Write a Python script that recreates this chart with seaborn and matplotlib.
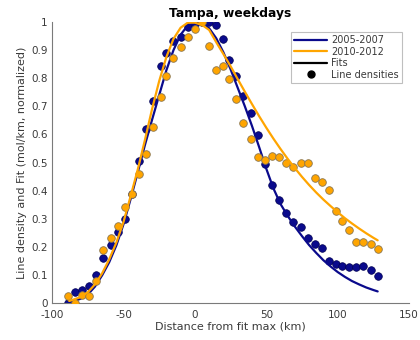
import numpy as np
import pandas as pd
import matplotlib
matplotlib.use("Agg")
import matplotlib.pyplot as plt
from matplotlib.lines import Line2D
import seaborn as sns

# ---- data ----
dist_pts = [-89, -84, -79, -74, -69, -64, -59, -54, -49, -44, -39, -34, -29, -24,
            -20, -15, -10, -5, 0, 5, 10, 15, 20, 24, 29, 34, 39, 44, 49, 54, 59,
            64, 69, 74, 79, 84, 89, 94, 99, 103, 108, 113, 118, 123, 128]
dens_0507 = [0.0, 0.038, 0.047, 0.059, 0.10, 0.161, 0.207, 0.251, 0.30, 0.387,
             0.504, 0.618, 0.719, 0.843, 0.889, 0.933, 0.948, 0.982, 0.994, 1.0,
             0.999, 0.99, 0.94, 0.865, 0.808, 0.737, 0.675, 0.598, 0.494, 0.42,
             0.367, 0.322, 0.289, 0.27, 0.232, 0.21, 0.194, 0.151, 0.139, 0.133,
             0.128, 0.129, 0.13, 0.117, 0.095]
dens_1012 = [0.024, 0.0, 0.03, 0.024, 0.079, 0.19, 0.233, 0.275, 0.341, 0.389,
             0.459, 0.53, 0.628, 0.732, 0.807, 0.871, 0.91, 0.946, 0.976, 1.0,
             0.914, 0.829, 0.842, 0.796, 0.727, 0.642, 0.583, 0.519, 0.509, 0.524,
             0.519, 0.5, 0.483, 0.498, 0.498, 0.446, 0.429, 0.403, 0.329, 0.291,
             0.258, 0.218, 0.218, 0.211, 0.193]

dist_fit = [-88, -85, -80, -75, -70, -65, -60, -55, -50, -45, -40, -35, -30, -25,
            -20, -15, -10, -5, 0, 5, 10, 15, 20, 25, 30, 35, 40, 45, 50, 55, 60,
            65, 70, 75, 80, 85, 90, 95, 100, 105, 110, 115, 120, 125, 128]
fit_0507 = [0.003, 0.006, 0.015, 0.03, 0.058, 0.098, 0.145, 0.205, 0.28, 0.37,
            0.465, 0.562, 0.652, 0.74, 0.828, 0.9, 0.955, 0.988, 0.998, 1.0,
            0.978, 0.942, 0.892, 0.832, 0.766, 0.70, 0.63, 0.555, 0.478, 0.408,
            0.352, 0.31, 0.272, 0.238, 0.206, 0.178, 0.152, 0.13, 0.11, 0.093,
            0.078, 0.066, 0.055, 0.046, 0.041]
fit_1012 = [0.007, 0.012, 0.021, 0.038, 0.066, 0.105, 0.155, 0.215, 0.288, 0.38,
            0.475, 0.58, 0.69, 0.79, 0.875, 0.94, 0.98, 0.998, 0.998, 0.99,
            0.972, 0.928, 0.886, 0.843, 0.797, 0.752, 0.708, 0.665, 0.624, 0.585,
            0.548, 0.513, 0.48, 0.449, 0.42, 0.393, 0.368, 0.345, 0.323, 0.302,
            0.283, 0.265, 0.248, 0.232, 0.223]

x_ticks = [-100, -50, 0, 50, 100, 150]
y_ticks = [0, 0.1, 0.2, 0.3, 0.4, 0.5, 0.6, 0.7, 0.8, 0.9, 1.0]
y_ticklabels = ["0", "0.1", "0.2", "0.3", "0.4", "0.5", "0.6", "0.7", "0.8", "0.9", "1"]

NAVY = "#0a0a8c"
ORANGE = "#ffa500"
GRAY = "#7a7a7a"
TXT = "#3a3a3a"

sns.set_style("white")
plt.rcParams["font.family"] = ["DejaVu Sans"]
plt.rcParams["axes.unicode_minus"] = False

pts_a = pd.DataFrame({"x": dist_pts, "y": dens_0507})
pts_b = pd.DataFrame({"x": dist_pts, "y": dens_1012})
fit_a = pd.DataFrame({"x": dist_fit, "y": fit_0507})
fit_b = pd.DataFrame({"x": dist_fit, "y": fit_1012})

fig = plt.figure(figsize=(4.2, 3.4), dpi=100)
ax = fig.add_axes([0.124, 0.109, 0.850, 0.826])

sns.scatterplot(data=pts_a, x="x", y="y", ax=ax, color=NAVY, s=30,
                edgecolor="#000050", linewidth=0.5, zorder=2, legend=False)
sns.lineplot(data=fit_a, x="x", y="y", ax=ax, color=NAVY, lw=1.6, zorder=3,
             legend=False)
sns.scatterplot(data=pts_b, x="x", y="y", ax=ax, color=ORANGE, s=30,
                edgecolor="#8a7650", linewidth=0.6, zorder=4, legend=False)
sns.lineplot(data=fit_b, x="x", y="y", ax=ax, color=ORANGE, lw=1.6, zorder=5,
             legend=False)

ax.set_xlim(-100, 150)
ax.set_ylim(0, 1)
ax.set_xticks(x_ticks)
ax.set_yticks(y_ticks)
ax.set_yticklabels(y_ticklabels)
ax.tick_params(direction="in", length=3, width=0.8, color=GRAY,
               labelsize=7.5, labelcolor=TXT, pad=3)
ax.tick_params(axis="x", pad=5)
for s in ["top", "right"]:
    ax.spines[s].set_visible(False)
for s in ["left", "bottom"]:
    ax.spines[s].set_color(GRAY)
    ax.spines[s].set_linewidth(0.8)

ax.set_xlabel("Distance from fit max (km)", fontsize=8, color=TXT, labelpad=1)
ax.set_ylabel("Line density and Fit (mol/km, normalized)", fontsize=8,
              color=TXT, labelpad=3)
ax.set_title("Tampa, weekdays", fontsize=8.8, fontweight="bold", color="black",
             pad=4)

handles = [
    Line2D([], [], color=NAVY, lw=1.6, label="2005-2007"),
    Line2D([], [], color=ORANGE, lw=1.6, label="2010-2012"),
    Line2D([], [], color="black", lw=1.6, label="Fits"),
    Line2D([], [], color="black", lw=0, marker="o", markersize=5,
           label="Line densities"),
]
leg = ax.legend(handles=handles, loc="upper right", bbox_to_anchor=(0.985, 0.97),
                fontsize=7, frameon=True, fancybox=False, handlelength=3.4,
                handletextpad=0.4, borderpad=0.3, labelspacing=0.15,
                borderaxespad=0.2)
leg.get_frame().set_edgecolor("#b0b0b0")
leg.get_frame().set_linewidth(0.8)
for t in leg.get_texts():
    t.set_color(TXT)

fig.savefig("out.png", dpi=100)
